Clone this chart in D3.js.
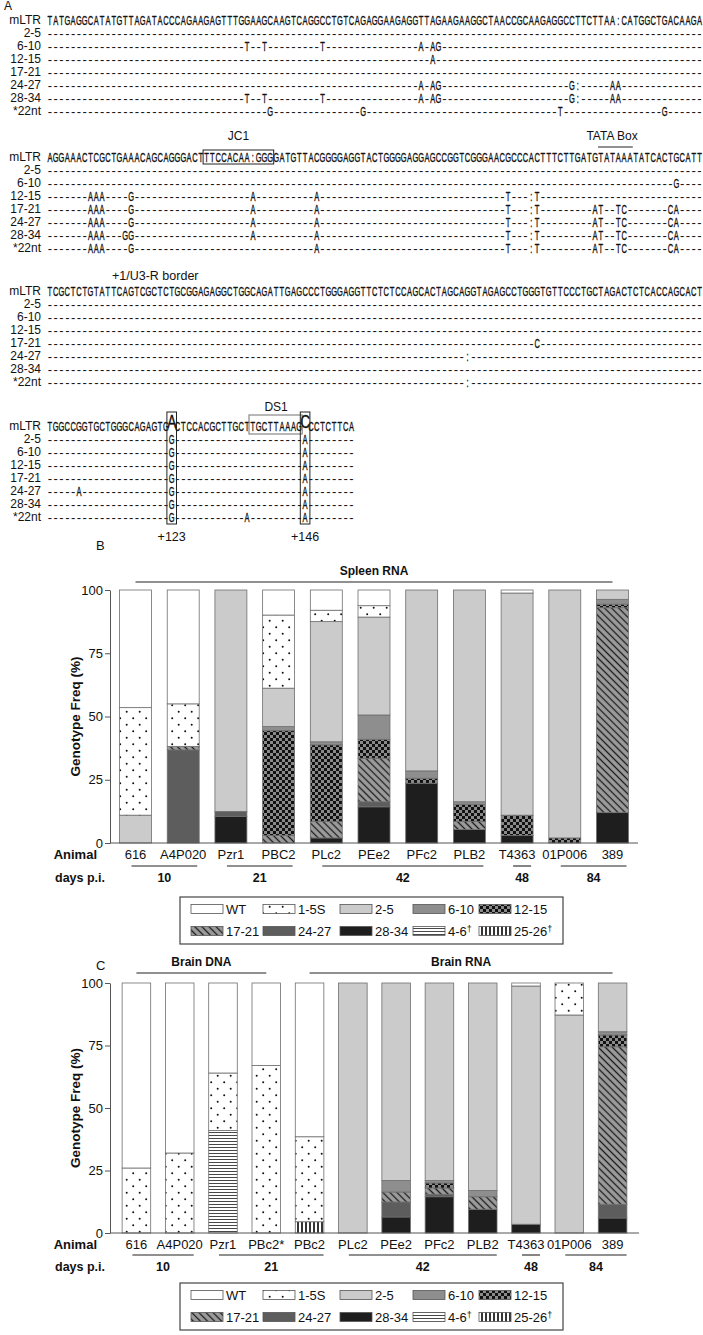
<!DOCTYPE html>
<html><head><meta charset="utf-8">
<script src="https://cdn.jsdelivr.net/npm/d3@7"></script>
<style>
body{margin:0;background:#fff}
svg{display:block}
text{font-family:"Liberation Sans",Arial,sans-serif;fill:#111}
.seq{stroke:#111;stroke-width:0.35px}
</style>
</head><body>
<svg id="fig" width="703" height="1335"></svg>
<script>
// ---------------- DATA ----------------
const rowLabels = ["2-5","6-10","12-15","17-21","24-27","28-34","*22nt"];
const seqLines = [
 "TATGAGGCATATGTTAGATACCCAGAAGAGTTTGGAAGCAAGTCAGGCCTGTCAGAGGAAGAGGTTAGAAGAAGGCTAACCGCAAGAGGCCTTCTTAA:CATGGCTGACAAGA",
 "AGGAAACTCGCTGAAACAGCAGGGACTTTCCACAA:GGGGATGTTACGGGGAGGTACTGGGGAGGAGCCGGTCGGGAACGCCCACTTTCTTGATGTATAAATATCACTGCATT",
 "TCGCTCTGTATTCAGTCGCTCTGCGGAGAGGCTGGCAGATTGAGCCCTGGGAGGTTCTCTCCAGCACTAGCAGGTAGAGCCTGGGTGTTCCCTGCTAGACTCTCACCAGCACT",
 "TGGCCGGTGCTGGGCAGAGTGACTCCACGCTTGCTTGCTTAAAGCCCTCTTCA"
];
// mutations per block, per genotype row: [index, character]
const mutBlock1 = [
 [],
 [[34,"T"],[37,"T"],[47,"T"],[64,"A"],[66,"A"],[67,"G"]],
 [[66,"A"]],
 [],
 [[64,"A"],[66,"A"],[67,"G"],[90,"G"],[91,":"],[97,"A"],[98,"A"]],
 [[34,"T"],[37,"T"],[47,"T"],[64,"A"],[66,"A"],[67,"G"],[90,"G"],[91,":"],[97,"A"],[98,"A"]],
 [[38,"G"],[54,"G"],[88,"T"],[106,"G"]]
];
const mutBlock2 = [
 [],
 [[108,"G"]],
 [[7,"A"],[8,"A"],[9,"A"],[14,"G"],[35,"A"],[46,"A"],[79,"T"],[83,":"],[84,"T"]],
 [[7,"A"],[8,"A"],[9,"A"],[14,"G"],[35,"A"],[46,"A"],[79,"T"],[83,":"],[84,"T"],[94,"A"],[95,"T"],[98,"T"],[99,"C"],[107,"C"],[108,"A"]],
 [[7,"A"],[8,"A"],[9,"A"],[14,"G"],[35,"A"],[46,"A"],[79,"T"],[83,":"],[84,"T"],[94,"A"],[95,"T"],[98,"T"],[99,"C"],[107,"C"],[108,"A"]],
 [[7,"A"],[8,"A"],[9,"A"],[13,"G"],[14,"G"],[35,"A"],[46,"A"],[79,"T"],[83,":"],[84,"T"],[94,"A"],[95,"T"],[98,"T"],[99,"C"],[107,"C"],[108,"A"]],
 [[7,"A"],[8,"A"],[9,"A"],[14,"G"],[46,"A"],[79,"T"],[83,":"],[84,"T"],[94,"A"],[95,"T"],[98,"T"],[99,"C"],[107,"C"],[108,"A"]]
];
const mutBlock3 = [
 [],[],[],
 [[84,"C"]],
 [[72,":"]],
 [],
 [[72,":"]]
];
const mutBlock4 = [
 [[21,"G"],[44,"A"]],
 [[21,"G"],[44,"A"]],
 [[21,"G"],[44,"A"]],
 [[21,"G"],[44,"A"]],
 [[5,"A"],[21,"G"],[44,"A"]],
 [[21,"G"],[44,"A"]],
 [[21,"G"],[34,"A"],[44,"A"]]
];
const bigPositions = [[21,"+123"],[44,"+146"]];

const genotypes = ["25-26†","4-6†","28-34","24-27","17-21","12-15","6-10","2-5","1-5S","WT"]; // bottom -> top
const legendRow1 = ["WT","1-5S","2-5","6-10","12-15"];
const legendRow2 = ["17-21","24-27","28-34","4-6†","25-26†"];

// Panel B: Spleen RNA
const animalsB = ["616","A4P020","Pzr1","PBC2","PLc2","PEe2","PFc2","PLB2","T4363","01P006","389"];
const b2526 = [0,0,0,0,0,0,0,0,0,0,0];
const b46   = [0,0,0,0,0,0,0,0,0,0,0];
const b2834 = [0,0,10.5,0,2,14.3,23.6,5.3,3,0,12];
const b2427 = [0,36.8,2,0,0,2,0,0,0,0,0];
const b1721 = [0,1.4,0,3,6.5,17.2,0,3.2,0,0,81];
const b1215 = [0,0,0,41.4,30.3,7.5,2,6.8,8,2,1.4];
const b610  = [0,0,0,1.6,1.2,9.6,2.9,1,0,0,1.9];
const b25   = [11,0,87.5,15.2,47.5,38.7,71.5,83.7,87.8,98,3.7];
const b15S  = [42.5,16.8,0,28.9,4.5,4.5,0,0,0,0,0];
const bWT   = [46.5,45,0,9.9,8,6.2,0,0,1.2,0,0];
const daysB = [["10",0,1],["21",2,3],["42",4,7],["48",8,8],["84",9,10]];
const headersB = [["Spleen RNA",0,10]];

// Panel C: Brain DNA / Brain RNA
const animalsC = ["616","A4P020","Pzr1","PBc2*","PBc2","PLc2","PEe2","PFc2","PLB2","T4363","01P006","389"];
const c2526 = [0,0,0,0,4.5,0,0,0,0,0,0,0];
const c46   = [0,0,41,0,0,0,0,0,0,0,0,0];
const c2834 = [0,0,0,0,0,0,6.4,14.5,9.5,3.5,0,6];
const c2427 = [0,0,0,0,0,0,6,1,0,0,0,5.5];
const c1721 = [0,0,0,0,0,0,4,2.5,5,0,0,63];
const c1215 = [0,0,0,0,0,0,0,2,0,0,0,4.7];
const c610  = [0,0,0,0,0,0,4.6,1,2.5,0,0,1.3];
const c25   = [0,0,0,0,0,100,79,79,83,95.3,87.2,19.5];
const c15S  = [26,32,23,67,34,0,0,0,0,0,12.8,0];
const cWT   = [74,68,36,33,61.5,0,0,0,0,1.2,0,0];
const daysC = [["10",0,1],["21",2,4],["42",5,8],["48",9,9],["84",10,11]];
const headersC = [["Brain DNA",0,3],["Brain RNA",4,11]];

const yTicks = [0,25,50,75,100];

// ---------------- DRAW ----------------
const svg = d3.select("#fig");
const defs = svg.append("defs");

function makePattern(id, w, h, transform){
  const p = defs.append("pattern").attr("id",id).attr("patternUnits","userSpaceOnUse")
    .attr("width",w).attr("height",h);
  if(transform) p.attr("patternTransform",transform);
  return p;
}
let p = makePattern("p15S",13,13);
p.append("rect").attr("width",13).attr("height",13).attr("fill","#fff");
p.append("circle").attr("cx",3.2).attr("cy",3.2).attr("r",1).attr("fill","#111");
p.append("circle").attr("cx",9.7).attr("cy",9.7).attr("r",1).attr("fill","#111");
p = makePattern("p1215",6,6);
p.append("rect").attr("width",6).attr("height",6).attr("fill","#8a8a8a");
p.append("rect").attr("width",3).attr("height",3).attr("fill","#111");
p.append("rect").attr("x",3).attr("y",3).attr("width",3).attr("height",3).attr("fill","#111");
p = makePattern("p1721",5,5,"rotate(45)");
p.append("rect").attr("width",5).attr("height",5).attr("fill","#9c9c9c");
p.append("line").attr("x1",0).attr("x2",5).attr("y1",2.5).attr("y2",2.5).attr("stroke","#1a1a1a").attr("stroke-width",1.3);
p = makePattern("p46",4,3);
p.append("rect").attr("width",4).attr("height",3).attr("fill","#fff");
p.append("line").attr("x1",0).attr("x2",4).attr("y1",1.5).attr("y2",1.5).attr("stroke","#333").attr("stroke-width",0.9);
p = makePattern("p2526",4,4);
p.append("rect").attr("width",4).attr("height",4).attr("fill","#fff");
p.append("line").attr("x1",2).attr("x2",2).attr("y1",0).attr("y2",4).attr("stroke","#111").attr("stroke-width",1.7);

const fills = {
  "WT":"#ffffff","1-5S":"url(#p15S)","2-5":"#cbcbcb","6-10":"#8e8e8e","12-15":"url(#p1215)",
  "17-21":"url(#p1721)","24-27":"#5d5d5d","28-34":"#1e1e1e","4-6†":"url(#p46)","25-26†":"url(#p2526)"
};

// ---------- Panel A: alignment ----------
const A = svg.append("g");
A.append("text").attr("x",4).attr("y",10).attr("font-size",12).text("A");
const x0 = 47, cw = 5.8, sx = 0.6, rowPitch = 13, seqSize = 12.5;
const blockY = [20, 157, 291, 426];
const mutBlocks = [mutBlock1, mutBlock2, mutBlock3, mutBlock4];
const cellC = i => x0 + cw*(i+0.5);

function runsOf(items){ // split sorted [idx,char] items into consecutive runs
  const out=[]; let cur=[];
  items.forEach(d=>{ if(cur.length && d[0]!==cur[cur.length-1][0]+1){out.push(cur);cur=[];} cur.push(d); });
  if(cur.length) out.push(cur);
  return out;
}
function letters(y, items, size){
  runsOf(items).forEach(run=>{
    A.append("g").attr("transform",`translate(0,${y}) scale(${sx},1)`)
      .append("text").attr("class","seq").attr("font-size",size||seqSize).attr("text-anchor","middle").attr("dy","0.36em")
      .attr("x", run.map(d=>(cellC(d[0])/sx).toFixed(2)).join(" "))
      .text(run.map(d=>d[1]).join(""));
  });
}
function dashes(y, idxs){
  runsOf(idxs.map(i=>[i,"-"])).forEach(run=>{
    A.append("text").attr("font-size",13).attr("text-anchor","middle").attr("dy","0.36em")
      .attr("fill","#222")
      .attr("x", run.map(d=>cellC(d[0]).toFixed(2)).join(" ")).attr("y",y)
      .text(run.map(()=>"-").join(""));
  });
}

seqLines.forEach((seq,b)=>{
  const y0 = blockY[b];
  A.append("text").attr("x",41).attr("y",y0).attr("dy","0.36em").attr("text-anchor","end").attr("font-size",12).text("mLTR");
  let refItems = seq.split("").map((c,i)=>[i,c]);
  if(b===3) refItems = refItems.filter(d=>!bigPositions.some(bp=>bp[0]===d[0]));
  letters(y0, refItems);
  rowLabels.forEach((lab,r)=>{
    const y = y0 + rowPitch*(r+1);
    A.append("text").attr("x",41).attr("y",y).attr("dy","0.36em").attr("text-anchor","end").attr("font-size",12).text(lab);
    const muts = mutBlocks[b][r];
    const mset = new Set(muts.map(d=>d[0]));
    const dIdx = d3.range(seq.length).filter(i=>!mset.has(i));
    dashes(y, dIdx);
    letters(y, muts);
  });
});

// JC1 box (block 2, idx 27..38)
const yb2 = blockY[1];
A.append("rect").attr("x",x0+27*cw-0.5).attr("y",yb2-7).attr("width",12*cw+1).attr("height",14)
  .attr("fill","none").attr("stroke","#222").attr("stroke-width",1);
A.append("text").attr("x",x0+33*cw).attr("y",yb2-21).attr("dy","0.36em").attr("text-anchor","middle").attr("font-size",12).text("JC1");
// TATA box overline (idx 95..100)
A.append("line").attr("x1",x0+95*cw).attr("x2",x0+101*cw).attr("y1",yb2-10).attr("y2",yb2-10).attr("stroke","#222").attr("stroke-width",1.2);
A.append("text").attr("x",x0+93*cw).attr("y",yb2-21).attr("dy","0.36em").attr("font-size",12).text("TATA Box");
// +1/U3-R border
A.append("text").attr("x",112).attr("y",blockY[2]-16).attr("dy","0.36em").attr("font-size",12.5).text("+1/U3-R border");
// DS1 box (block 4, idx 35..43)
const yb4 = blockY[3];
A.append("rect").attr("x",x0+35*cw-1).attr("y",yb4-11).attr("width",9*cw+1).attr("height",19)
  .attr("fill","none").attr("stroke","#888").attr("stroke-width",1.2);
A.append("text").attr("x",x0+39.5*cw).attr("y",yb4-19).attr("dy","0.36em").attr("text-anchor","middle").attr("font-size",12).text("DS1");
// big letters and their boxes
bigPositions.forEach(([i,lab])=>{
  const cx = cellC(i);
  A.append("g").attr("transform",`translate(0,${yb4+1.5}) scale(0.74,1)`)
    .append("text").attr("class","seq").attr("x",cx/0.74).attr("text-anchor","middle").attr("font-size",18.5).text(seqLines[3][i]);
  A.append("rect").attr("x",cx-4.8).attr("y",yb4-14).attr("width",9.6).attr("height",rowPitch*7+21)
    .attr("fill","none").attr("stroke","#222").attr("stroke-width",1);
  A.append("text").attr("x",cx).attr("y",yb4+rowPitch*7+19).attr("dy","0.36em").attr("text-anchor","middle").attr("font-size",12.5).text(lab);
});

// ---------- Bar panels ----------
function drawPanel(o){
  const g = svg.append("g");
  g.append("text").attr("x",96).attr("y",o.letterY).attr("dy","0.36em").attr("font-size",13).text(o.letter);
  const x = d3.scaleBand().domain(o.animals).range([o.xr0,o.xr1]).paddingInner(o.pin).paddingOuter(o.pout);
  const y = d3.scaleLinear().domain([0,100]).range([o.yb,o.yt]);
  const table = o.animals.map((a,i)=>{const r={animal:a}; o.series.forEach((v,k)=>r[genotypes[k]]=v[i]); return r;});
  const layers = d3.stack().keys(genotypes)(table);
  layers.forEach(layer=>{
    g.append("g").selectAll("rect").data(layer.filter(d=>d[1]-d[0]>0)).join("rect")
      .attr("x",d=>x(d.data.animal)).attr("width",x.bandwidth())
      .attr("y",d=>y(d[1])).attr("height",d=>y(d[0])-y(d[1]))
      .attr("fill",fills[layer.key]).attr("stroke","#6e6e6e").attr("stroke-width",0.8);
  });
  // axes
  const ax = g.append("g").attr("transform",`translate(${o.xr0},0)`)
    .call(d3.axisLeft(y).tickValues(yTicks).tickSize(5).tickSizeOuter(0).tickPadding(2));
  ax.select(".domain").attr("stroke","#555");
  ax.selectAll(".tick line").attr("stroke","#555");
  ax.selectAll(".tick text").attr("font-size",13).attr("fill","#333").attr("font-family","Liberation Sans, Arial, sans-serif");
  g.append("line").attr("x1",o.xr0).attr("x2",o.xr1).attr("y1",o.yb).attr("y2",o.yb).attr("stroke","#555");
  g.append("text").attr("transform",`translate(80,${(o.yb+o.yt)/2}) rotate(-90)`).attr("text-anchor","middle")
    .attr("font-size",13.5).attr("font-weight","bold").text("Genotype Freq (%)");
  // headers
  const cx = a=>x(a)+x.bandwidth()/2;
  o.headers.forEach(([t,i0,i1])=>{
    const a = cx(o.animals[i0]), b = cx(o.animals[i1]);
    g.append("line").attr("x1",a).attr("x2",b).attr("y1",o.headY).attr("y2",o.headY).attr("stroke","#222").attr("stroke-width",1.2);
    g.append("text").attr("x",(a+b)/2).attr("y",o.headY-11).attr("dy","0.36em").attr("text-anchor","middle")
      .attr("font-size",12).attr("font-weight","bold").text(t);
  });
  // animal labels
  g.append("text").attr("x",97).attr("y",o.animY).attr("dy","0.36em").attr("text-anchor","end").attr("font-size",13).attr("font-weight","bold").text("Animal");
  g.selectAll(".an").data(o.animals).join("text").attr("class","an")
    .attr("x",a=>cx(a)).attr("y",o.animY).attr("dy","0.36em").attr("text-anchor","middle").attr("font-size",13).text(a=>a);
  // days
  g.append("text").attr("x",55).attr("y",o.daysY).attr("dy","0.36em").attr("font-size",12.5).attr("font-weight","bold").text("days p.i.");
  o.days.forEach(([t,i0,i1])=>{
    const a = cx(o.animals[i0])-4, b = cx(o.animals[i1])+14;
    g.append("line").attr("x1",a).attr("x2",b).attr("y1",o.daysY-11).attr("y2",o.daysY-11).attr("stroke","#222").attr("stroke-width",1.1);
    g.append("text").attr("x",(a+b)/2).attr("y",o.daysY).attr("dy","0.36em").attr("text-anchor","middle")
      .attr("font-size",12.5).attr("font-weight","bold").text(t);
  });
  // legend
  const L = g.append("g");
  L.append("rect").attr("x",180).attr("y",o.legY).attr("width",383).attr("height",47).attr("fill","#fff").attr("stroke","#444").attr("stroke-width",1.2);
  const cols = [191,263,340,413,479];
  [legendRow1,legendRow2].forEach((row,ri)=>{
    const yy = o.legY + 12 + ri*22;
    row.forEach((k,ci)=>{
      L.append("rect").attr("x",cols[ci]).attr("y",yy-4.5).attr("width",32).attr("height",9)
        .attr("fill",fills[k]).attr("stroke","#555").attr("stroke-width",0.8);
      const t = L.append("text").attr("x",cols[ci]+35).attr("y",yy).attr("dy","0.36em").attr("font-size",13);
      if(k.endsWith("†")){
        t.append("tspan").text(k.slice(0,-1));
        t.append("tspan").attr("dy","-0.45em").attr("font-size",9).text("†");
      } else t.text(k);
    });
  });
}

drawPanel({letter:"B", letterY:545, animals:animalsB,
  series:[b2526,b46,b2834,b2427,b1721,b1215,b610,b25,b15S,bWT],
  xr0:110, xr1:638, pin:0.33, pout:0.2, yb:843, yt:590,
  headers:headersB, headY:582, animY:854, daysY:877, days:daysB, legY:897});

drawPanel({letter:"C", letterY:965, animals:animalsC,
  series:[c2526,c46,c2834,c2427,c1721,c1215,c610,c25,c15S,cWT],
  xr0:110, xr1:639, pin:0.34, pout:0.28, yb:1233, yt:983,
  headers:headersC, headY:973, animY:1244, daysY:1266, days:daysC, legY:1283});
</script>
</body></html>
